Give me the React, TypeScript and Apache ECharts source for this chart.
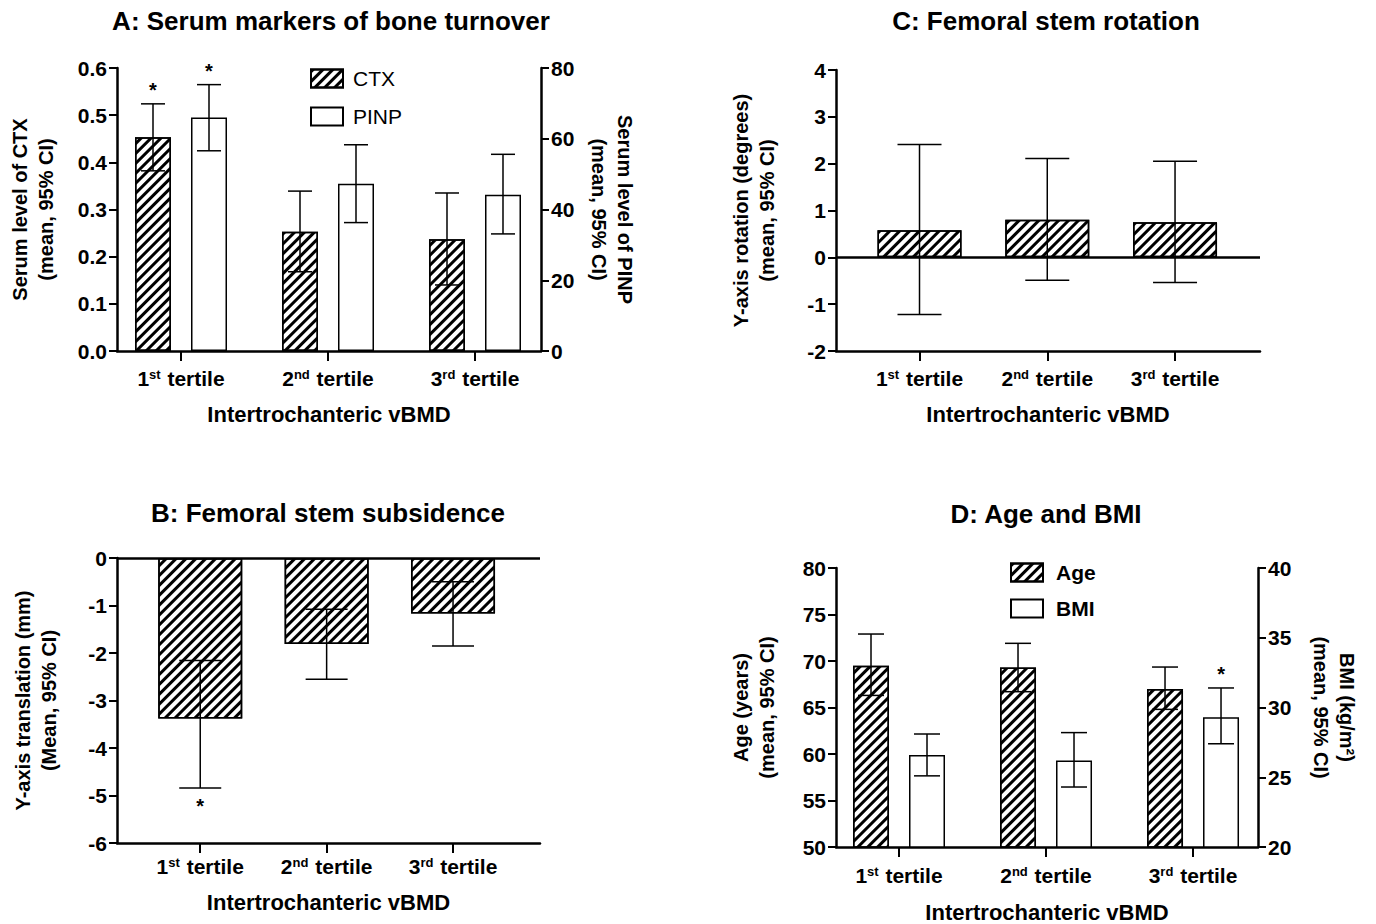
import React, { useEffect, useRef } from "react";
import * as echarts from "echarts";

const categories = ["1st tertile", "2nd tertile", "3rd tertile"];
const catPos = [1, 2, 3];

// Panel A
const ctxMean = [0.453, 0.253, 0.237];
const ctxLow = [0.382, 0.168, 0.14];
const ctxHigh = [0.524, 0.339, 0.335];
const ctxStar = [1, 0, 0];
const pinpMean = [66.0, 47.3, 44.2];
const pinpLow = [56.6, 36.3, 33.1];
const pinpHigh = [75.3, 58.3, 55.6];
const pinpStar = [1, 0, 0];

// Panel C
const rotMean = [0.58, 0.8, 0.75];
const rotLow = [-1.22, -0.49, -0.54];
const rotHigh = [2.41, 2.11, 2.05];

// Panel B
const subMean = [-3.38, -1.81, -1.17];
const subLow = [-4.84, -2.55, -1.85];
const subHigh = [-2.16, -1.08, -0.5];
const subStar = [-1, 0, 0];

// Panel D
const ageMean = [69.5, 69.3, 67.0];
const ageLow = [66.3, 66.7, 64.8];
const ageHigh = [72.9, 71.9, 69.35];
const bmiMean = [26.6, 26.2, 29.3];
const bmiLow = [25.1, 24.3, 27.4];
const bmiHigh = [28.1, 28.2, 31.4];
const bmiStar = [0, 0, 1];

const FONT = '"Liberation Sans", Arial, Helvetica, sans-serif';

const hatch = {
  symbol: "rect",
  symbolSize: 1,
  dashArrayX: [1, 0],
  dashArrayY: [2.2, 3.6],
  rotation: -Math.PI / 4,
  color: "#000",
  backgroundColor: "#fff",
};

const hatchStyle = { color: "#fff", borderColor: "#000", borderWidth: 1.5, decal: hatch };
const whiteStyle = { color: "#fff", borderColor: "#000", borderWidth: 1.5 };

function barData(vals: number[]) {
  return vals.map((v, i) => [catPos[i], v]);
}

function errData(low: number[], high: number[], star?: number[]) {
  return low.map((l, i) => [catPos[i], l, high[i], star ? star[i] : 0]);
}

function errSeries(
  name: string,
  gi: number,
  yi: number,
  data: any[],
  offsetPx: number,
  capHalf: number
) {
  return {
    type: "custom",
    name,
    xAxisIndex: gi,
    yAxisIndex: yi,
    z: 10,
    data,
    renderItem: (params: any, api: any) => {
      const c = api.value(0);
      const lo = api.coord([c, api.value(1)]);
      const hi = api.coord([c, api.value(2)]);
      const star = api.value(3);
      const x = lo[0] + offsetPx;
      const ls = { stroke: "#000", lineWidth: 1.5 };
      const children: any[] = [
        { type: "line", shape: { x1: x, y1: lo[1], x2: x, y2: hi[1] }, style: ls },
        { type: "line", shape: { x1: x - capHalf, y1: lo[1], x2: x + capHalf, y2: lo[1] }, style: ls },
        { type: "line", shape: { x1: x - capHalf, y1: hi[1], x2: x + capHalf, y2: hi[1] }, style: ls },
      ];
      if (star === 1) {
        children.push({
          type: "text",
          x,
          y: hi[1] - 4,
          style: { text: "*", font: `bold 20px ${FONT}`, fill: "#000", align: "center", verticalAlign: "bottom" },
        });
      } else if (star === -1) {
        children.push({
          type: "text",
          x,
          y: lo[1] + 8,
          style: { text: "*", font: `bold 20px ${FONT}`, fill: "#000", align: "center", verticalAlign: "top" },
        });
      }
      return { type: "group", children };
    },
  };
}

const axisLineStyle = { color: "#000", width: 2.5 };

function catAxis(gi: number, min: number, max: number, nameGap: number, margin: number) {
  return {
    type: "value",
    gridIndex: gi,
    min,
    max,
    position: "bottom",
    splitLine: { show: false },
    axisLine: { onZero: false, lineStyle: axisLineStyle },
    axisTick: { customValues: catPos, length: 10, lineStyle: { color: "#000", width: 2 } },
    axisLabel: {
      customValues: catPos,
      margin,
      color: "#000",
      fontFamily: FONT,
      fontWeight: "bold",
      fontSize: 21,
      formatter: (v: number) => {
        const s = categories[Math.round(v) - 1] || "";
        return s.replace(/^(\d)(st|nd|rd)/, "$1{sup|$2}");
      },
      rich: {
        sup: { fontSize: 13, fontWeight: "bold", fontFamily: FONT, color: "#000", verticalAlign: "top", padding: [0, 1, 8, 0] },
      },
    },
    name: "Intertrochanteric vBMD",
    nameLocation: "middle",
    nameGap,
    nameTextStyle: { color: "#000", fontFamily: FONT, fontWeight: "bold", fontSize: 22 },
  };
}

function valAxis(
  gi: number,
  min: number,
  max: number,
  interval: number,
  name: string,
  nameGap: number,
  position: string,
  decimals: number
) {
  return {
    type: "value",
    gridIndex: gi,
    min,
    max,
    interval,
    position,
    splitLine: { show: false },
    axisLine: { show: true, onZero: false, lineStyle: axisLineStyle },
    axisTick: { show: true, length: 8, lineStyle: { color: "#000", width: 2 } },
    axisLabel: {
      margin: 10,
      color: "#000",
      fontFamily: FONT,
      fontWeight: "bold",
      fontSize: 21,
      formatter: (v: number) => v.toFixed(decimals),
    },
    name,
    nameLocation: "middle",
    nameGap,
    nameRotate: position === "right" ? -90 : 90,
    nameTextStyle: { color: "#000", fontFamily: FONT, fontWeight: "bold", fontSize: 20, lineHeight: 26 },
  };
}

const zeroLine = {
  silent: true,
  symbol: ["none", "none"],
  label: { show: false },
  lineStyle: { color: "#000", width: 2.5, type: "solid" },
  data: [{ yAxis: 0 }],
};

function titleText(text: string, x: number, y: number) {
  return {
    type: "text",
    x,
    y,
    style: { text, font: `bold 26px ${FONT}`, fill: "#000", align: "center", verticalAlign: "middle" },
  };
}

export default function App() {
  const ref = useRef<HTMLDivElement>(null);
  useEffect(() => {
    if (!ref.current) return;
    const chart = echarts.init(ref.current, null, { renderer: "svg" });
    const pairW = 36;
    const pairGap = 20;
    const pairOff = (pairW + pairGap) / 2;
    const gapPct = `${(pairGap / pairW) * 100}%`;
    const option: any = {
      animation: false,
      backgroundColor: "#fff",
      graphic: [
        titleText("A: Serum markers of bone turnover", 331, 21),
        titleText("C: Femoral stem rotation", 1046, 21),
        titleText("B: Femoral stem subsidence", 328, 513),
        titleText("D: Age and BMI", 1046, 514),
      ],
      legend: [
        {
          data: ["CTX", "PINP"],
          left: 305,
          top: 63,
          orient: "vertical",
          icon: "rect",
          itemWidth: 32,
          itemHeight: 18,
          itemGap: 17,
          selectedMode: false,
          textStyle: { color: "#000", fontFamily: FONT, fontSize: 21, padding: [0, 0, 0, 5] },
        },
        {
          data: ["Age", "BMI"],
          left: 1005,
          top: 557,
          orient: "vertical",
          icon: "rect",
          itemWidth: 32,
          itemHeight: 18,
          itemGap: 15,
          selectedMode: false,
          textStyle: { color: "#000", fontFamily: FONT, fontSize: 21, fontWeight: "bold", padding: [0, 0, 0, 8] },
        },
      ],
      grid: [
        { left: 117, top: 68, width: 424, height: 283 },
        { left: 836, top: 70, width: 424, height: 281 },
        { left: 117, top: 558, width: 423, height: 285 },
        { left: 836, top: 568, width: 422, height: 282 },
      ],
      xAxis: [
        catAxis(0, 0.5646, 3.449, 52, 17),
        catAxis(1, 0.3464, 3.665, 52, 17),
        catAxis(2, 0.3415, 3.688, 48, 13),
        catAxis(3, 0.5714, 3.442, 54, 18),
      ],
      yAxis: [
        valAxis(0, 0, 0.6, 0.1, "Serum level of CTX\n(mean, 95% CI)", 58, "left", 1),
        valAxis(0, 0, 80, 20, "Serum level of PINP\n(mean, 95% CI)", 45, "right", 0),
        valAxis(1, -2, 4, 1, "Y-axis rotation (degrees)\n(mean, 95% CI)", 56, "left", 0),
        valAxis(2, -6, 0, 1, "Y-axis translation (mm)\n(Mean, 95% CI)", 55, "left", 0),
        valAxis(3, 50, 80, 5, "Age (years)\n(mean, 95% CI)", 56, "left", 0),
        valAxis(3, 20, 40, 5, "BMI (kg/m²)\n(mean, 95% CI)", 50, "right", 0),
      ],
      series: [
        { type: "bar", name: "CTX", xAxisIndex: 0, yAxisIndex: 0, data: barData(ctxMean), barWidth: pairW, barGap: gapPct, itemStyle: hatchStyle },
        { type: "bar", name: "PINP", xAxisIndex: 0, yAxisIndex: 1, data: barData(pinpMean), barWidth: pairW, barGap: gapPct, itemStyle: whiteStyle },
        errSeries("CTX err", 0, 0, errData(ctxLow, ctxHigh, ctxStar), -pairOff, 12),
        errSeries("PINP err", 0, 1, errData(pinpLow, pinpHigh, pinpStar), pairOff, 12),

        { type: "bar", name: "Rotation", xAxisIndex: 1, yAxisIndex: 2, data: barData(rotMean), barWidth: 84, itemStyle: hatchStyle, markLine: zeroLine },
        errSeries("Rotation err", 1, 2, errData(rotLow, rotHigh), 0, 22),

        { type: "bar", name: "Subsidence", xAxisIndex: 2, yAxisIndex: 3, data: barData(subMean), barWidth: 84, itemStyle: hatchStyle, markLine: zeroLine },
        errSeries("Subsidence err", 2, 3, errData(subLow, subHigh, subStar), 0, 21),

        { type: "bar", name: "Age", xAxisIndex: 3, yAxisIndex: 4, data: barData(ageMean), barWidth: pairW, barGap: gapPct, itemStyle: hatchStyle },
        { type: "bar", name: "BMI", xAxisIndex: 3, yAxisIndex: 5, data: barData(bmiMean), barWidth: pairW, barGap: gapPct, itemStyle: whiteStyle },
        errSeries("Age err", 3, 4, errData(ageLow, ageHigh), -pairOff, 13),
        errSeries("BMI err", 3, 5, errData(bmiLow, bmiHigh, bmiStar), pairOff, 13),
      ],
    };
    chart.setOption(option);
    return () => chart.dispose();
  }, []);
  return (
    <div
      ref={ref}
      style={{ position: "absolute", left: 0, top: 0, width: 1376, height: 924, background: "#fff" }}
    />
  );
}
